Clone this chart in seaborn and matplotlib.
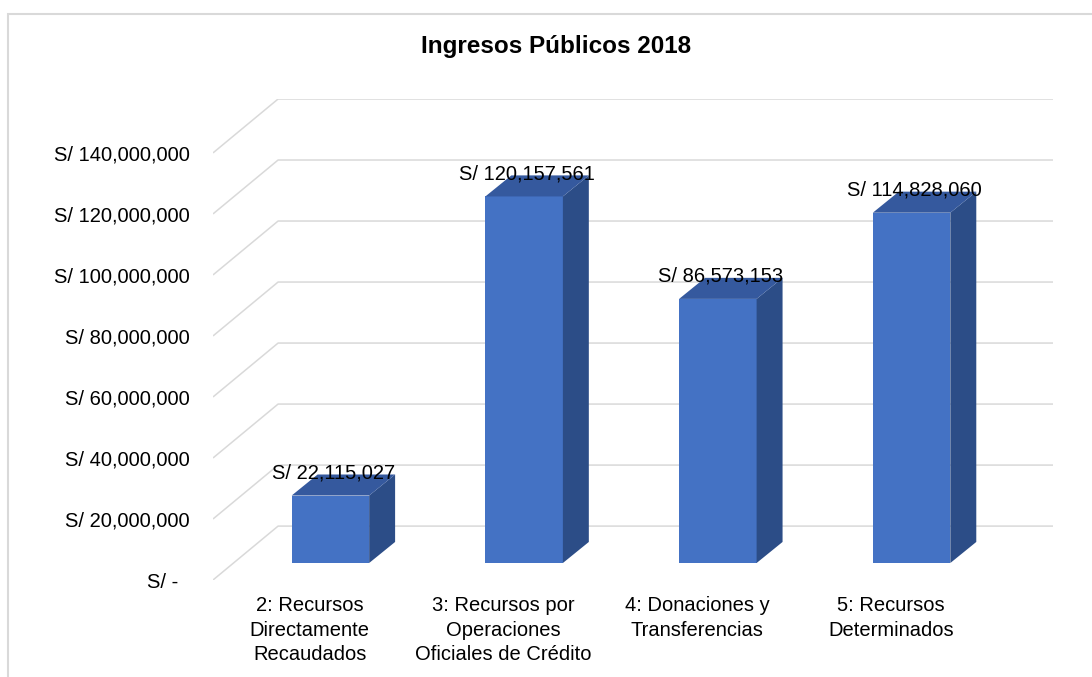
import numpy as np
import pandas as pd
import matplotlib
matplotlib.use("Agg")
import matplotlib.pyplot as plt
from matplotlib.patches import Polygon, Rectangle
import seaborn as sns

# data
categorias = ["2: Recursos\nDirectamente\nRecaudados",
              "3: Recursos por\nOperaciones\nOficiales de Crédito",
              "4: Donaciones y\nTransferencias",
              "5: Recursos\nDeterminados"]
montos = [22115027, 120157561, 86573153, 114828060]
etiquetas = ["S/ 22,115,027", "S/ 120,157,561", "S/ 86,573,153", "S/ 114,828,060"]
ticks_y = [0, 20e6, 40e6, 60e6, 80e6, 100e6, 120e6, 140e6]
ticks_y_lab = ["S/ -  ", "S/ 20,000,000", "S/ 40,000,000", "S/ 60,000,000",
               "S/ 80,000,000", "S/ 100,000,000", "S/ 120,000,000", "S/ 140,000,000"]
titulo = "Ingresos Públicos 2018"

# fake 3d offsets (x in category units, y in value units)
FRONT = (-0.106, -5.57e6)
BACK = (0.23, 12.1e6)
BAR_D = (0.134, 6.9e6)

azul = "#4472C4"
azul_top = "#35599E"
azul_side = "#2C4D87"
gris = "#D9D9D9"

sns.set_style("white")
plt.rcParams["font.family"] = ["Liberation Sans", "DejaVu Sans"]

df = pd.DataFrame({"cat": categorias, "monto": montos})

fig = plt.figure(figsize=(10.92, 6.77), dpi=100)
ax = fig.add_axes([213/1092, 97/677, 840/1092, 481/677])

sns.barplot(data=df, x="cat", y="monto", order=categorias, color=azul,
            width=0.4, saturation=1, linewidth=0, edgecolor="none", ax=ax, zorder=3)

# gridlines drawn like excel's 3d walls
for v in ticks_y:
    xs = [-0.5 + FRONT[0], -0.5 + BACK[0], 3.5 + BACK[0]]
    ys = [v + FRONT[1], v + BACK[1], v + BACK[1]]
    ax.plot(xs, ys, color=gris, lw=1.1, zorder=1, solid_capstyle="butt")

# side and top faces of bars
for p in list(ax.patches):
    x0 = p.get_x()
    x1 = x0 + p.get_width()
    h = p.get_height()
    dx, dy = BAR_D
    side = Polygon([(x1, 0), (x1 + dx, dy), (x1 + dx, h + dy), (x1, h)],
                   closed=True, facecolor=azul_side, edgecolor="none", zorder=3)
    top = Polygon([(x0, h), (x0 + dx, h + dy), (x1 + dx, h + dy), (x1, h)],
                  closed=True, facecolor=azul_top, edgecolor="none", zorder=3)
    ax.add_patch(side)
    ax.add_patch(top)

for i, v in enumerate(montos):
    ax.annotate(etiquetas[i], xy=(i, v), xytext=(2, 16.5), textcoords="offset points",
                ha="center", va="center", fontsize=14.5, color="#000000", zorder=5)

ax.set_xlim(-0.5 + FRONT[0], 3.5 + BACK[0])
ax.set_ylim(FRONT[1], 140e6 + BACK[1])

ax.set_yticks([v + FRONT[1] for v in ticks_y], ticks_y_lab)
ax.set_xticks(np.arange(len(categorias)) + FRONT[0], categorias)
ax.tick_params(axis="y", length=0, pad=17, labelsize=14.5, labelcolor="#000000")
ax.tick_params(axis="x", length=0, pad=11.5, labelsize=14.5, labelcolor="#000000")
for t in ax.get_xticklabels():
    t.set_linespacing(1.38)
ax.set_xlabel("")
ax.set_ylabel("")
sns.despine(ax=ax, left=True, bottom=True)

fig.text(556/1092, 1 - 47/677, titulo, ha="center", va="center",
         fontsize=17.5, fontweight="bold", color="#000000")

# chart area border
fig.patches.append(Rectangle((8/1092, -0.1), 1.2, 1.1 - 14/677, transform=fig.transFigure,
                             fill=False, edgecolor=gris, lw=1.5))

fig.savefig("out.png", dpi=100)
